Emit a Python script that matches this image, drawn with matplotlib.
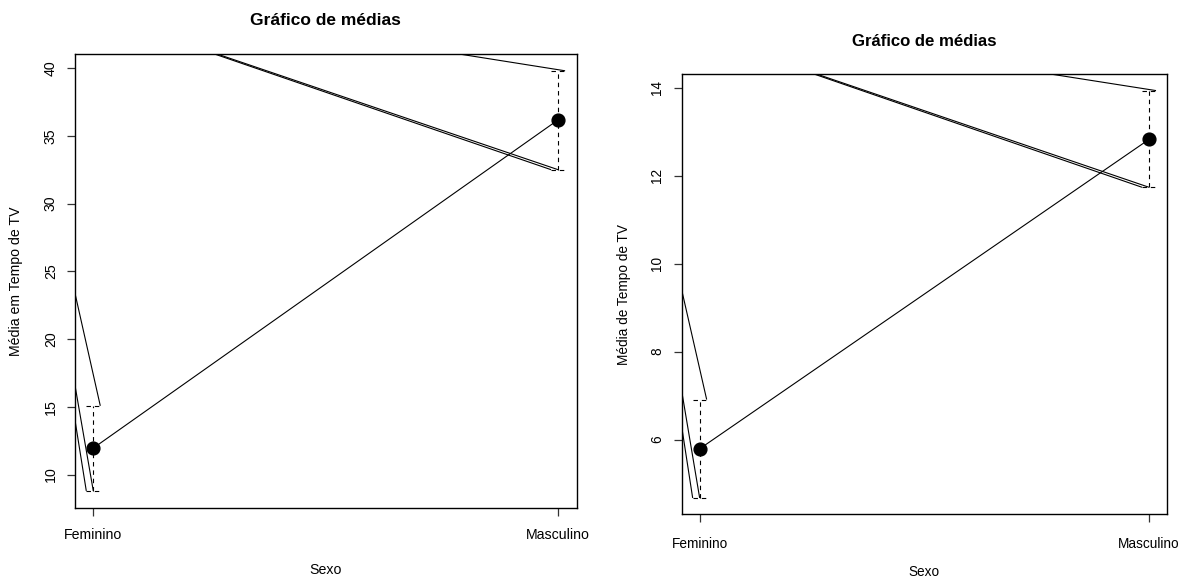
import matplotlib
matplotlib.use("Agg")
import matplotlib.pyplot as plt
from matplotlib.ticker import MultipleLocator

# ---------------- data ----------------
categories = ["Feminino", "Masculino"]

# left panel: Média em Tempo de TV
means_left = [11.95, 36.18]
upper_left = [15.07, 39.80]
lower_left = [8.79, 32.50]

# right panel: Média de Tempo de TV
means_right = [5.79, 12.83]
upper_right = [6.91, 13.94]
lower_right = [4.67, 11.74]

title_text = "Gráfico de médias"
xlabel_text = "Sexo"
ylabel_left = "Média em Tempo de TV"
ylabel_right = "Média de Tempo de TV"

# ---------------- layout ----------------
W, H = 1181, 580
DPI = 100
plt.rcParams["font.family"] = ["Liberation Sans", "DejaVu Sans"]

fig = plt.figure(figsize=(W / DPI, H / DPI), dpi=DPI)


def fx(x):
    return x / W


def fy(y):
    return 1 - y / H


def make_panel(box, means, upper, lower, ylabel, ystep, fs, title_y, ylab_x,
               xlab_y, xpad, ypad, conv):
    left, top, right, bottom = box
    ax = fig.add_axes([fx(left), fy(bottom), (right - left) / W, (bottom - top) / H])
    xs = list(range(1, len(categories) + 1))
    ax.set_xlim(1 - 0.04 * (len(xs) - 1), len(xs) + 0.04 * (len(xs) - 1))
    r = max(upper) - min(lower)
    ax.set_ylim(min(lower) - 0.04 * r, max(upper) + 0.04 * r)

    for s in ax.spines.values():
        s.set_linewidth(1.0)
        s.set_color("black")

    ax.set_xticks(xs)
    ax.set_xticklabels(categories, fontsize=fs)
    ax.yaxis.set_major_locator(MultipleLocator(ystep))
    ax.tick_params(axis="both", direction="out", length=5.8, width=0.9,
                   color="#333333", labelsize=fs)
    ax.tick_params(axis="x", pad=xpad)
    ax.tick_params(axis="y", pad=ypad)
    for lab in ax.get_yticklabels():
        lab.set_rotation(90)
        lab.set_va("center")

    # pixel helpers
    inv = ax.transData.inverted()

    def px2data(xp, yp):
        return inv.transform((xp, H - yp))

    x0d = ax.transData.transform((0, 0))[0]
    x1d = ax.transData.transform((1, 0))[0]
    cap = 7.0 / (x1d - x0d)
    cx, cy = px2data(*conv)

    dash = dict(color="black", lw=0.8, linestyle=(0, (4, 3.5)))
    solid = dict(color="black", lw=0.8, solid_capstyle="butt")
    for x, hi, lo in zip(xs, upper, lower):
        ax.plot([x, x], [lo, hi], **dash)
        ax.plot([x - cap, x + cap], [hi, hi], **dash)
        ax.plot([x - cap, x + cap], [lo, lo], **dash)
        # stray arrow-head segments
        ax.plot([x + cap, cx], [hi, cy], **solid)
        ax.plot([x - cap, cx], [lo, cy], **solid)
        ax.plot([x, cx], [lo, cy], **solid)

    ax.plot(xs, means, color="black", lw=0.8)
    ax.plot(xs, means, "o", color="black", markersize=9.2, zorder=5)

    cxp = (left + right) / 2
    fig.text(fx(cxp), fy(title_y), title_text, ha="center", va="center",
             fontsize=fs * 1.23, fontweight="bold")
    fig.text(fx(cxp), fy(xlab_y), xlabel_text, ha="center", va="center", fontsize=fs)
    fig.text(fx(ylab_x), fy((top + bottom) / 2), ylabel, ha="center", va="center",
             rotation=90, fontsize=fs)
    return ax


make_panel((74.7, 54.0, 576.7, 507.7), means_left, upper_left, lower_left,
           ylabel_left, 5, 10.15, 20.4, 16.0, 570.0, 8.9, 6.3, (5.0, -18.0))
make_panel((681.7, 74.3, 1167.0, 514.3), means_right, upper_right, lower_right,
           ylabel_right, 2, 9.8, 41.0, 624.0, 572.0, 10.6, 6.8, (617.0, 6.0))

fig.savefig("out.png", dpi=DPI)
